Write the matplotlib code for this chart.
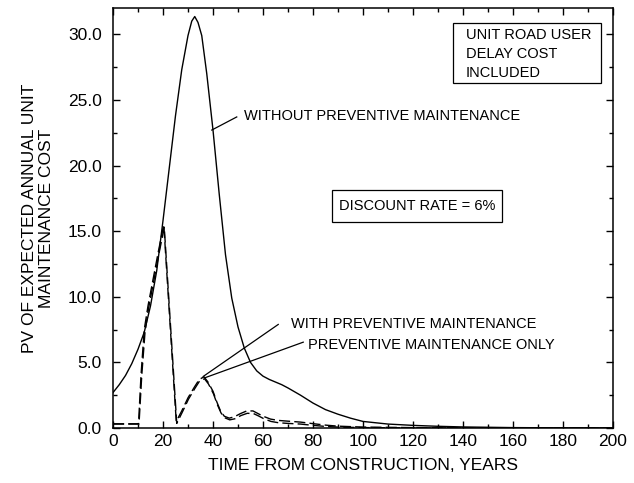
import numpy as np
import matplotlib
matplotlib.use("Agg")
import matplotlib.pyplot as plt
from matplotlib.patches import Rectangle
from matplotlib.ticker import MultipleLocator, FormatStrFormatter

plt.rcParams['font.family'] = ['Liberation Sans', 'DejaVu Sans']

# Without preventive maintenance (solid)
years_nopm = [0, 2.5, 5, 7.5, 10, 12.5, 15, 17.5, 20, 22.5, 25, 27.5, 30, 31.5, 32.7,
              34, 35.5, 37.5, 40, 42.5, 45, 47.5, 50, 52.5, 55, 57.5, 60, 62.5, 65,
              67.5, 70, 75, 80, 85, 90, 95, 100, 110, 120, 130, 140, 160, 180, 200]
cost_nopm = [2.7, 3.3, 4.0, 4.9, 6.0, 7.3, 9.3, 12.0, 15.8, 19.8, 23.8, 27.3, 29.9, 31.0, 31.35,
             30.9, 29.9, 27.0, 22.7, 17.8, 13.2, 9.9, 7.7, 6.1, 5.0, 4.35, 3.95, 3.7, 3.5,
             3.3, 3.05, 2.5, 1.9, 1.4, 1.05, 0.75, 0.5, 0.3, 0.2, 0.13, 0.08, 0.03, 0.01, 0.0]

# With preventive maintenance (dashed)
years_pm = [0, 10.2, 11.2, 12.5, 14, 16, 18, 20.3, 25.3, 27.5, 30, 32.5, 34.5, 36.4, 38,
            40, 41.5, 43, 44.5, 46.5, 48.5, 51, 53.5, 56, 58, 60, 63, 66, 70, 75, 80,
            85, 90, 100, 120, 150, 200]
cost_pm = [0.32, 0.32, 4.0, 7.5, 9.3, 11.3, 13.3, 15.5, 0.5, 1.3, 2.3, 3.1, 3.7, 3.9, 3.5,
           2.8, 2.0, 1.3, 0.9, 0.75, 0.85, 1.1, 1.3, 1.3, 1.1, 0.9, 0.68, 0.58, 0.52, 0.45, 0.33,
           0.22, 0.14, 0.07, 0.03, 0.01, 0.0]

# Preventive maintenance only (dashed)
years_pmonly = [0, 10.4, 11.5, 12.8, 14.3, 16.3, 18.3, 20.5, 25.5, 27.7, 30.2, 32.7, 34.7, 36.6,
                38.2, 40.2, 41.7, 43.2, 44.7, 46.7, 48.7, 51.2, 53.7, 56.2, 58.2, 60.2, 63.2,
                66.2, 70, 75, 80, 85, 90, 100, 120, 150, 200]
cost_pmonly = [0.3, 0.3, 4.0, 7.3, 9.2, 11.2, 13.2, 15.3, 0.35, 1.2, 2.2, 3.0, 3.6, 3.75,
               3.35, 2.6, 1.8, 1.15, 0.78, 0.62, 0.7, 0.95, 1.12, 1.1, 0.92, 0.72, 0.5,
               0.4, 0.35, 0.3, 0.2, 0.12, 0.07, 0.03, 0.01, 0.0, 0.0]

fig = plt.figure(figsize=(6.34, 4.83), dpi=100)
ax = fig.add_axes([113/634, 1-428/483, 500/634, 420/483])

ax.plot(years_nopm, cost_nopm, color='black', lw=1.0)
ax.plot(years_pm, cost_pm, color='black', lw=1.0, dashes=(8, 3))
ax.plot(years_pmonly, cost_pmonly, color='black', lw=1.0, dashes=(8, 3), dash_capstyle='butt')

ax.set_xlim(0, 200)
ax.set_ylim(0, 32)
ax.xaxis.set_major_locator(MultipleLocator(20))
ax.xaxis.set_minor_locator(MultipleLocator(10))
ax.yaxis.set_major_locator(MultipleLocator(5))
ax.yaxis.set_minor_locator(MultipleLocator(2.5))
ax.yaxis.set_major_formatter(FormatStrFormatter('%.1f'))
ax.tick_params(which='both', direction='in', top=True, right=True, labelsize=12.5, width=1.0)
ax.tick_params(which='major', length=5)
ax.tick_params(which='minor', length=3)
ax.tick_params(axis='y', pad=8)
ax.tick_params(axis='x', pad=4)
for s in ax.spines.values():
    s.set_linewidth(1.1)

ax.set_xlabel('TIME FROM CONSTRUCTION, YEARS', fontsize=12.5, labelpad=7)
ax.set_ylabel('PV OF EXPECTED ANNUAL UNIT\nMAINTENANCE COST', fontsize=12.5,
              multialignment='center', labelpad=10)

fs = 10.5
# annotations
ax.plot([39.5, 49.5], [22.7, 23.7], color='black', lw=0.9)
ax.text(52.4, 23.74, 'WITHOUT PREVENTIVE MAINTENANCE', fontsize=fs, va='center', ha='left')

ax.plot([36.1, 66.1], [3.93, 7.89], color='black', lw=0.9)
ax.text(71.2, 7.89, 'WITH PREVENTIVE MAINTENANCE', fontsize=fs, va='center', ha='left')
ax.plot([36.8, 76.1], [3.83, 6.54], color='black', lw=0.9)
ax.text(78.1, 6.29, 'PREVENTIVE MAINTENANCE ONLY', fontsize=fs, va='center', ha='left')

ax.add_patch(Rectangle((136, 26.28), 59.2, 4.57, fill=False, ec='black', lw=0.9))
for yy, line in zip([29.92, 28.52, 27.04], ['UNIT ROAD USER', 'DELAY COST', 'INCLUDED']):
    ax.text(141.2, yy, line, fontsize=fs, va='center', ha='left')

ax.add_patch(Rectangle((87.5, 15.69), 68.0, 2.41, fill=False, ec='black', lw=0.9))
ax.text(90.5, 16.88, 'DISCOUNT RATE = 6%', fontsize=fs, va='center', ha='left')

fig.savefig('out.png', dpi=100)
